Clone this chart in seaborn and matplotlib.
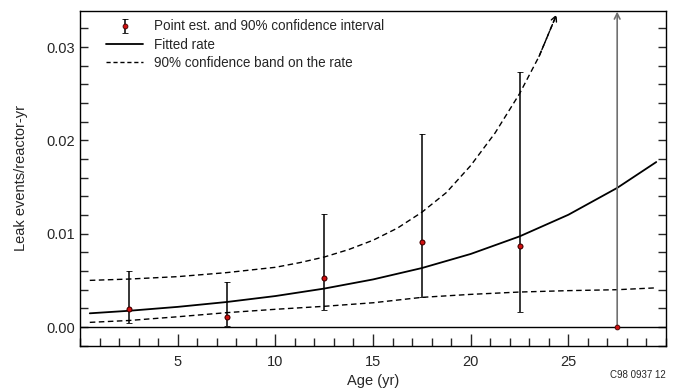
import numpy as np
import pandas as pd
import seaborn as sns
import matplotlib.pyplot as plt
from matplotlib.ticker import MultipleLocator
from matplotlib.lines import Line2D

# point estimates and 90% intervals by 5-yr age bin
age_mid = [2.5, 7.5, 12.5, 17.5, 22.5, 27.5]
rate_est = [0.0019, 0.00105, 0.0053, 0.0091, 0.0087, 0.0]
ci_low = [0.0004, 0.0001, 0.00186, 0.0032, 0.00158, 0.0]
ci_high = [0.0060, 0.00486, 0.0121, 0.0207, 0.0273, 0.0338]

# fitted rate
fit_age = [0.5, 2.5, 5, 7.5, 10, 12.5, 15, 17.5, 20, 22.5, 25, 27.5, 29.5]
fit_rate = [0.00147, 0.00174, 0.00216, 0.00268, 0.00332, 0.00412, 0.00510,
            0.00632, 0.00783, 0.00971, 0.01203, 0.01491, 0.01768]

# confidence band on the rate
up_age = [0.5, 2.5, 5, 7.5, 10, 11.25, 12.5, 13.75, 15, 16.25, 17.5, 18.75,
          20, 21.25, 22.5, 23.5, 24.4]
up_rate = [0.0050, 0.00514, 0.0054, 0.00583, 0.0064, 0.0069, 0.0075, 0.0083,
           0.0093, 0.0106, 0.0123, 0.0144, 0.0173, 0.0208, 0.0250, 0.0290, 0.0335]
lo_age = [0.5, 2.5, 5, 7.5, 10, 12.5, 15, 17.5, 20, 22.5, 25, 27.5, 29.5]
lo_rate = [0.0005, 0.0007, 0.0011, 0.00154, 0.0019, 0.00222, 0.0026, 0.00318,
           0.0035, 0.00375, 0.0039, 0.0040, 0.0042]

sns.set_style("ticks")
plt.rcParams['font.family'] = ['Liberation Sans', 'DejaVu Sans']

fig = plt.figure(figsize=(6.81, 3.9), dpi=100)
ax = fig.add_axes([0.1175, 0.1136, 0.8605, 0.859])

ax.axhline(0, color='black', lw=1)

fit = pd.DataFrame({'age': fit_age, 'rate': fit_rate})
sns.lineplot(data=fit, x='age', y='rate', color='black', lw=1.3, ax=ax)
up = pd.DataFrame({'age': up_age, 'rate': up_rate})
sns.lineplot(data=up, x='age', y='rate', color='black', lw=1, ax=ax,
             linestyle=(0, (4, 2.5)))
lo = pd.DataFrame({'age': lo_age, 'rate': lo_rate})
sns.lineplot(data=lo, x='age', y='rate', color='black', lw=1, ax=ax,
             linestyle=(0, (4, 2.5)))
ax.annotate('', xy=(up_age[-1], up_rate[-1]), xytext=(up_age[-2], up_rate[-2]),
            arrowprops=dict(arrowstyle='->', lw=1, color='black',
                            shrinkA=0, shrinkB=0, linestyle='--'))

# error bars (last one is open ended, drawn grey with arrow)
lo_err = [e - l for e, l in zip(rate_est, ci_low)]
hi_err = [h - e for e, h in zip(rate_est, ci_high)]
eb = ax.errorbar(age_mid[:5], rate_est[:5], yerr=[lo_err[:5], hi_err[:5]],
                 fmt='o', ms=3.5, mfc='#d01010', mec='#400000', mew=0.6,
                 ecolor='black', elinewidth=1.1, capsize=2, capthick=1.1)
ax.annotate('', xy=(age_mid[5], ci_high[5]), xytext=(age_mid[5], ci_low[5]),
            arrowprops=dict(arrowstyle='->', lw=1.2, color='#707070',
                            shrinkA=0, shrinkB=0))
pts = pd.DataFrame({'age': age_mid, 'rate': rate_est})
sns.scatterplot(data=pts, x='age', y='rate', color='#d01010', edgecolor='#400000',
                s=12, linewidth=0.6, zorder=5, ax=ax)

ax.set_xlim(0, 30)
ax.set_ylim(-0.002, 0.0339)
ax.xaxis.set_major_locator(MultipleLocator(5))
ax.xaxis.set_minor_locator(MultipleLocator(1))
ax.set_xticks([5, 10, 15, 20, 25])
ax.yaxis.set_major_locator(MultipleLocator(0.01))
ax.yaxis.set_minor_locator(MultipleLocator(0.002))
ax.yaxis.set_major_formatter(plt.FuncFormatter(lambda v, p: f'{v:.2f}'))
ax.tick_params(axis='both', which='both', direction='in', labelsize=10.5)
ax.tick_params(axis='x', which='major', length=9, width=1, pad=7)
ax.tick_params(axis='x', which='minor', length=6, width=1)
ax.tick_params(axis='y', which='both', length=6, width=1, right=True)
for s in ax.spines.values():
    s.set_linewidth(1)
    s.set_color('black')

ax.set_xlabel('Age (yr)', fontsize=10.5, labelpad=3)
ax.set_ylabel('Leak events/reactor-yr', fontsize=10.5, labelpad=13)

handles = [
    eb,
    Line2D([0], [0], color='black', lw=1.3),
    Line2D([0], [0], color='black', lw=1, linestyle=(0, (3, 2))),
]
ax.legend(handles, ['Point est. and 90% confidence interval', 'Fitted rate',
                    '90% confidence band on the rate'],
          loc='upper left', bbox_to_anchor=(0.03, 1.0), frameon=False,
          fontsize=9.75, handlelength=2.7, labelspacing=0.3, borderaxespad=0.25)

fig.text(0.978, 0.03, 'C98 0937 12', fontsize=7, ha='right')

fig.savefig('out.png', dpi=100)
